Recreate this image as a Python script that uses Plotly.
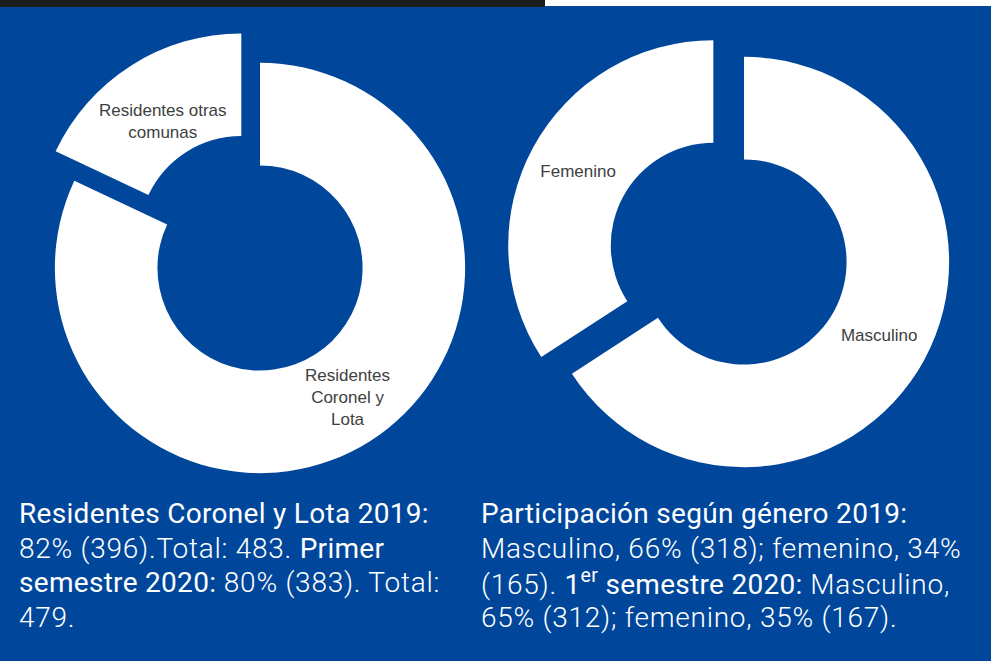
import plotly.graph_objects as go

# ---- data ----
res_labels = ["Residentes Coronel y Lota", "Residentes otras comunas"]
res_text = ["Residentes<br>Coronel y<br>Lota", "Residentes otras<br>comunas"]
res_values = [396, 87]
res_pull = [0, 0.17]

gen_labels = ["Masculino", "Femenino"]
gen_text = ["Masculino", "Femenino"]
gen_values = [318, 165]
gen_pull = [0, 0.17]

# caption lines: list of (text, is_heading) segments per line
left_caption = [
    [("Residentes Coronel y Lota 2019:", True)],
    [("82% (396).Total: 483. ", False), ("Primer", True)],
    [("semestre 2020:", True), (" 80% (383). Total:", False)],
    [("479.", False)],
]
right_caption = [
    [("Participación según género 2019:", True)],
    [("Masculino, 66% (318); femenino, 34%", False)],
    [("(165). ", False), ("1<sup>er</sup> semestre 2020:", True), (" Masculino,", False)],
    [("65% (312); femenino, 35% (167).", False)],
]

W, H = 991, 661
BLUE = "#00479B"
LABEL_COLOR = "#404040"
LABEL_FONT = dict(family="Liberation Sans, Arial, sans-serif", size=17, color=LABEL_COLOR)

def px_dom(x0, x1, ytop, ybot):
    return dict(x=[x0 / W, x1 / W], y=[(H - ybot) / H, (H - ytop) / H])

fig = go.Figure()
fig.add_trace(go.Pie(
    labels=res_labels, values=res_values, pull=res_pull,
    hole=0.5, sort=False, direction="clockwise", rotation=0,
    textinfo="none",
    marker=dict(colors=["#FFFFFF", "#FFFFFF"], line=dict(width=0)),
    domain=px_dom(20, 500, 28, 508), showlegend=False, hoverinfo="label+value",
))
fig.add_trace(go.Pie(
    labels=gen_labels, values=gen_values, text=gen_text, pull=gen_pull,
    hole=0.5, sort=False, direction="clockwise", rotation=0,
    textinfo="text", textposition="inside", insidetextorientation="horizontal",
    insidetextfont=LABEL_FONT,
    marker=dict(colors=["#FFFFFF", "#FFFFFF"], line=dict(width=0)),
    domain=px_dom(504, 984, 22, 502), showlegend=False, hoverinfo="label+value",
))

# labels of the left donut (placed inside their slices)
left_label_pos = [(347, 397), (163, 121)]
for txt, (lx, ly) in zip(res_text, left_label_pos):
    fig.add_annotation(x=lx / W, y=(H - ly) / H, xref="paper", yref="paper",
                       xanchor="center", yanchor="middle", align="center",
                       showarrow=False, text=txt, font=LABEL_FONT)

# captions
def seg_html(s, head):
    if head:
        return f"<span style='font-weight:400;letter-spacing:0.3px'>{s}</span>"
    return f"<span style='font-weight:300;letter-spacing:0.75px'>{s}</span>"

cap_font = dict(family="Roboto, Liberation Sans, sans-serif", size=28, color="#FFFFFF")
LINE0, LINE_STEP = 513.5, 34.5
for lines, x0 in ((left_caption, 17), (right_caption, 479)):
    for i, segs in enumerate(lines):
        fig.add_annotation(x=x0 / W, y=(H - (LINE0 + i * LINE_STEP)) / H,
                           xref="paper", yref="paper", xanchor="left", yanchor="middle",
                           align="left", showarrow=False,
                           text="".join(seg_html(s, h) for s, h in segs), font=cap_font)

# top strip
fig.add_shape(type="rect", xref="paper", yref="paper", x0=0, x1=545 / W,
              y0=1 - 7 / H, y1=1, fillcolor="#1C1C1A", line=dict(width=0), layer="above")
fig.add_shape(type="rect", xref="paper", yref="paper", x0=545 / W, x1=1,
              y0=1 - 6 / H, y1=1, fillcolor="#FFFFFF", line=dict(width=0), layer="above")

fig.update_layout(
    width=W, height=H, margin=dict(l=0, r=0, t=0, b=0),
    paper_bgcolor=BLUE, plot_bgcolor=BLUE,
)
fig.write_html("out.html", config={"displayModeBar": False},
               post_script="document.body.style.margin='0';document.body.style.overflow='hidden';")
